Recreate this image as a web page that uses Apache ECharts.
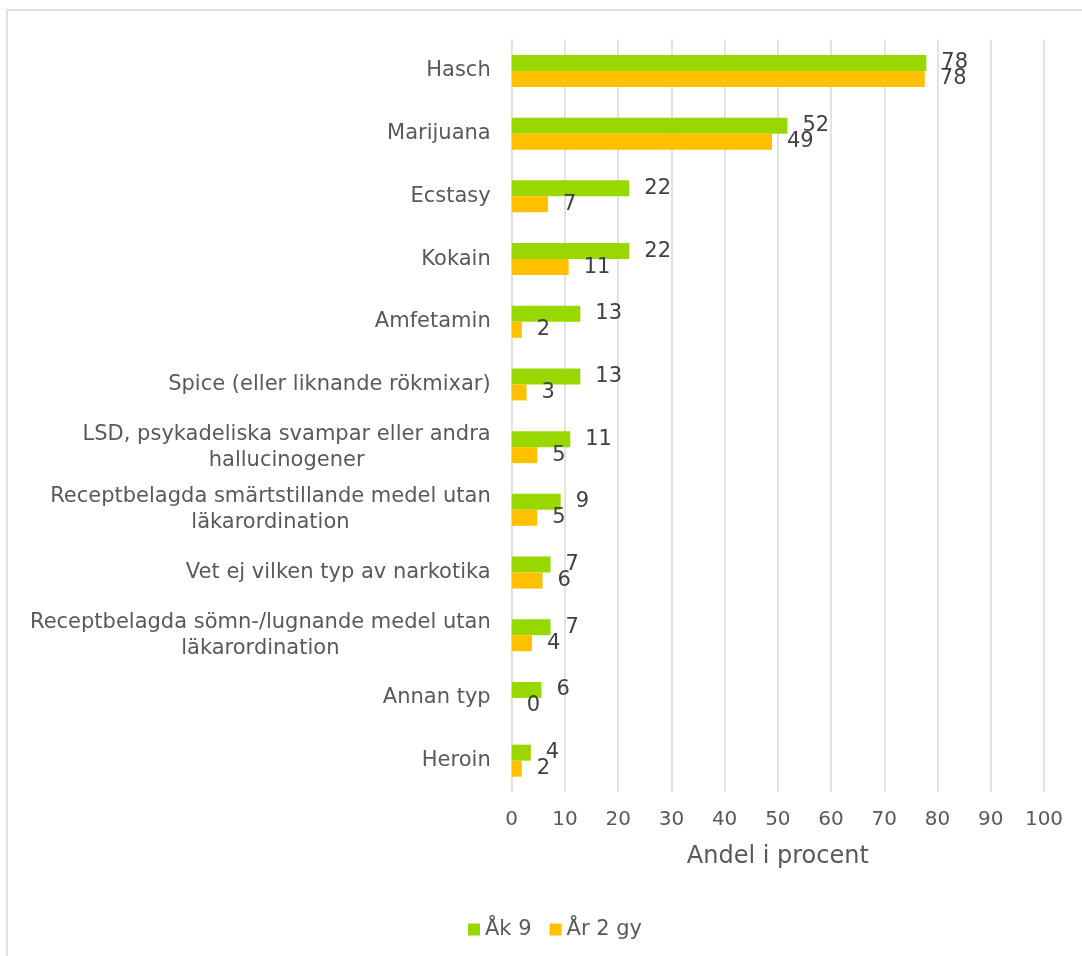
<!DOCTYPE html>
<html>
<head>
    <meta charset="utf-8">
    <title>Narkotika</title>
    <script src="https://cdn.jsdelivr.net/npm/echarts@6/dist/echarts.min.js"></script>
    <style type="text/css">
        html, body {margin:0; padding:0; background:#fff; overflow:hidden;}
    </style>
</head>
<body>
<div id="container" style="width:1082px;height:956px;"></div>

<script type="text/javascript">
    // kategorier, uppifrån och ned
    var categories = [
        'Hasch',
        'Marijuana',
        'Ecstasy',
        'Kokain',
        'Amfetamin',
        'Spice (eller liknande rökmixar)',
        'LSD, psykadeliska svampar eller andra\nhallucinogener',
        'Receptbelagda smärtstillande medel utan\nläkarordination',
        'Vet ej vilken typ av narkotika',
        'Receptbelagda sömn-/lugnande medel utan\nläkarordination',
        'Annan typ',
        'Heroin'
    ];
    var ak9 = [77.9, 51.8, 22.1, 22.1, 12.9, 12.9, 11.0, 9.2, 7.3, 7.3, 5.6, 3.6];
    var ar2 = [77.6, 48.9, 6.8, 10.7, 1.9, 2.8, 4.8, 4.8, 5.8, 3.8, 0, 1.9];
    var xTicks = [0, 10, 20, 30, 40, 50, 60, 70, 80, 90, 100];

    var font = 'DejaVu Sans';
    var dom = document.getElementById('container');
    var myChart = echarts.init(dom);

    function roundLabel(p) {
        return Math.round(p.value);
    }

    var option = {
        backgroundColor: '#fff',
        animation: false,
        graphic: [{
            type: 'rect',
            z: -1,
            shape: {x: 7, y: 10, width: 1200, height: 1000},
            style: {fill: 'none', stroke: '#d9d9d9', lineWidth: 1.5}
        }],
        legend: {
            left: 463,
            top: 914,
            itemWidth: 12,
            itemHeight: 12,
            itemGap: 18,
            icon: 'rect',
            textStyle: {color: '#595959', fontSize: 21, fontFamily: font},
            data: ['Åk 9', 'År 2 gy']
        },
        grid: {
            left: 511.7,
            right: 38,
            top: 39.6,
            bottom: 164
        },
        xAxis: {
            type: 'value',
            min: xTicks[0],
            max: xTicks[xTicks.length - 1],
            interval: 10,
            name: 'Andel i procent',
            nameLocation: 'middle',
            nameGap: 53,
            nameTextStyle: {color: '#595959', fontSize: 24, fontFamily: font},
            axisLine: {show: false},
            axisTick: {show: false},
            axisLabel: {color: '#595959', fontSize: 20, fontFamily: font, margin: 18},
            splitLine: {show: true, lineStyle: {color: '#d9d9d9', width: 1.5}}
        },
        yAxis: {
            type: 'category',
            inverse: true,
            data: categories,
            axisLine: {show: false},
            axisTick: {show: false},
            axisLabel: {
                margin: 21,
                formatter: function (v) {
                    return v.split('\n').map(function (s) { return '{c|' + s + '}'; }).join('\n');
                },
                rich: {
                    c: {align: 'center', color: '#595959', fontSize: 21, fontFamily: font, lineHeight: 26}
                }
            }
        },
        series: [{
            name: 'Åk 9',
            type: 'bar',
            data: ak9,
            barWidth: 16,
            barGap: '0%',
            itemStyle: {color: '#99d700'},
            label: {
                show: true,
                position: 'right',
                distance: 15,
                color: '#404040',
                fontSize: 21,
                fontFamily: font,
                formatter: roundLabel
            }
        }, {
            name: 'År 2 gy',
            type: 'bar',
            data: ar2,
            barWidth: 16,
            barGap: '0%',
            itemStyle: {color: '#ffc000'},
            label: {
                show: true,
                position: 'right',
                distance: 15,
                color: '#404040',
                fontSize: 21,
                fontFamily: font,
                formatter: roundLabel
            }
        }]
    };

    myChart.setOption(option);
</script>
</body>
</html>
